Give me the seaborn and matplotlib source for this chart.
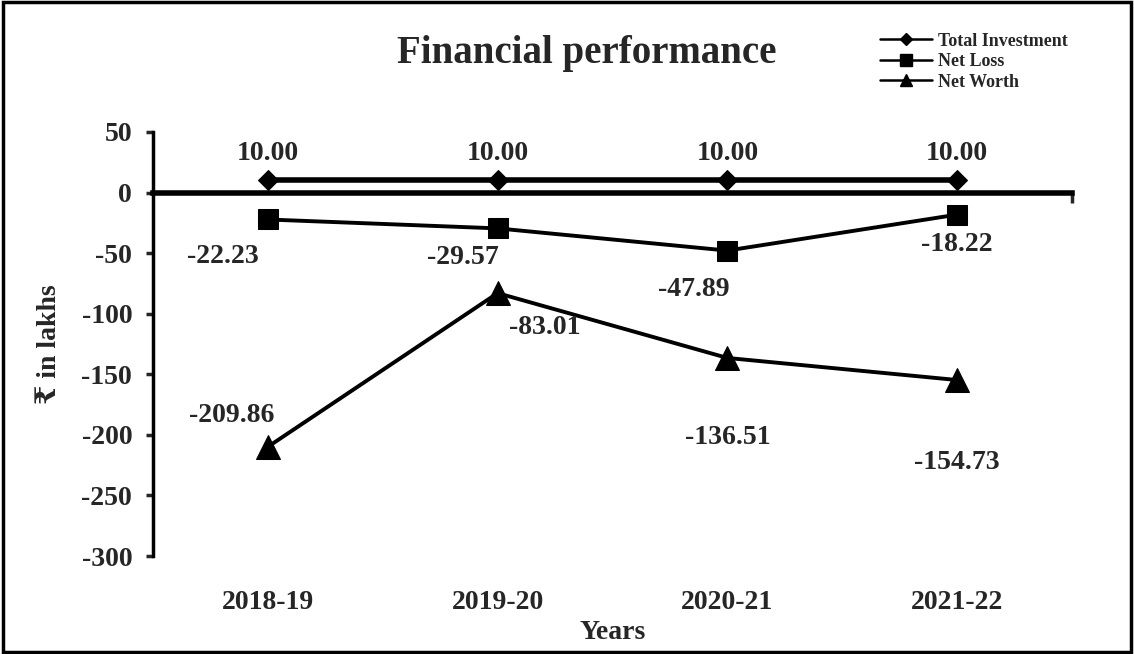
import matplotlib
matplotlib.use('Agg')
import matplotlib.pyplot as plt
import seaborn as sns
from matplotlib.lines import Line2D
from matplotlib.patches import Rectangle

# data
years = ['2018-19', '2019-20', '2020-21', '2021-22']
total_investment = [10.00, 10.00, 10.00, 10.00]
net_loss = [-22.23, -29.57, -47.89, -18.22]
net_worth = [-209.86, -83.01, -136.51, -154.73]

sns.set_theme(style='white')
plt.rcParams['font.family'] = ['Liberation Serif', 'DejaVu Serif', 'DejaVu Sans']
plt.rcParams['font.weight'] = 'bold'
plt.rcParams['axes.unicode_minus'] = False

fig = plt.figure(figsize=(11.34, 6.54), dpi=100)
ax = fig.add_axes([0.1349, 0.1498, 0.8104, 0.6484])

pos = list(range(len(years)))

sns.lineplot(x=pos, y=total_investment, ax=ax, color='black', lw=4,
             marker='D', markersize=10, markeredgecolor='black')
sns.lineplot(x=pos, y=net_loss, ax=ax, color='black', lw=2.8,
             marker='s', markersize=14, markeredgecolor='black')
sns.lineplot(x=pos, y=net_worth, ax=ax, color='black', lw=2.8,
             marker='^', markersize=17, markeredgecolor='black')

ax.set_xlim(-0.5, 3.5)
ax.set_ylim(-300, 50)
ax.set_yticks(range(-300, 51, 50))
ax.tick_params(axis='y', direction='out', length=5, width=2.5, labelsize=20,
               left=True, pad=10)
ax.set_xticks([3.5])
ax.set_xticklabels([])
ax.tick_params(axis='x', direction='out', length=7, width=2.5, bottom=True)

for s in ['top', 'right']:
    ax.spines[s].set_visible(False)
ax.spines['left'].set_linewidth(2.5)
ax.spines['bottom'].set_position(('data', 0))
ax.spines['bottom'].set_linewidth(4)
for s in ['left', 'bottom']:
    ax.spines[s].set_color('black')

# category labels below the plot area
for i, yr in enumerate(years):
    ax.text(i, -0.11, yr, transform=ax.get_xaxis_transform(), ha='center',
            va='center', fontsize=20, fontweight='bold')
ax.text(1.5, -0.18, 'Years', transform=ax.get_xaxis_transform(), ha='center',
        va='center', fontsize=20, fontweight='bold')
ax.set_ylabel('₹ in lakhs', fontsize=20, fontweight='bold', labelpad=14)

# data labels (pixel offsets)
ti_off = [(0, 27)] * 4
nl_off = [(-45, -37), (-35, -29), (-34, -39), (0, -30)]
nw_off = [(-36, 31), (47, -34), (0, -80), (0, -82)]
for vals, offs in [(total_investment, ti_off), (net_loss, nl_off), (net_worth, nw_off)]:
    for i, (v, o) in enumerate(zip(vals, offs)):
        ax.annotate(f'{v:.2f}', (i, v), xytext=o, textcoords='offset pixels',
                    ha='center', va='center', fontsize=20, fontweight='bold')

fig.text(0.5175, 0.918, 'Financial performance', ha='center', va='center',
         fontsize=28, fontweight='bold')

handles = [
    Line2D([], [], color='black', lw=1.8, marker='D', markersize=6),
    Line2D([], [], color='black', lw=1.8, marker='s', markersize=8),
    Line2D([], [], color='black', lw=1.8, marker='^', markersize=8),
]
fig.legend(handles, ['Total Investment', 'Net Loss', 'Net Worth'],
           loc='upper left', bbox_to_anchor=(0.768, 0.964), frameon=False,
           handlelength=2.9, handletextpad=0.3, labelspacing=0.2,
           borderpad=0, prop={'weight': 'bold', 'size': 13})

fig.patches.append(Rectangle((0.003, 0.003), 0.994, 0.994, transform=fig.transFigure,
                             fill=False, edgecolor='black', lw=2.5))

fig.savefig('out.png', dpi=100)
